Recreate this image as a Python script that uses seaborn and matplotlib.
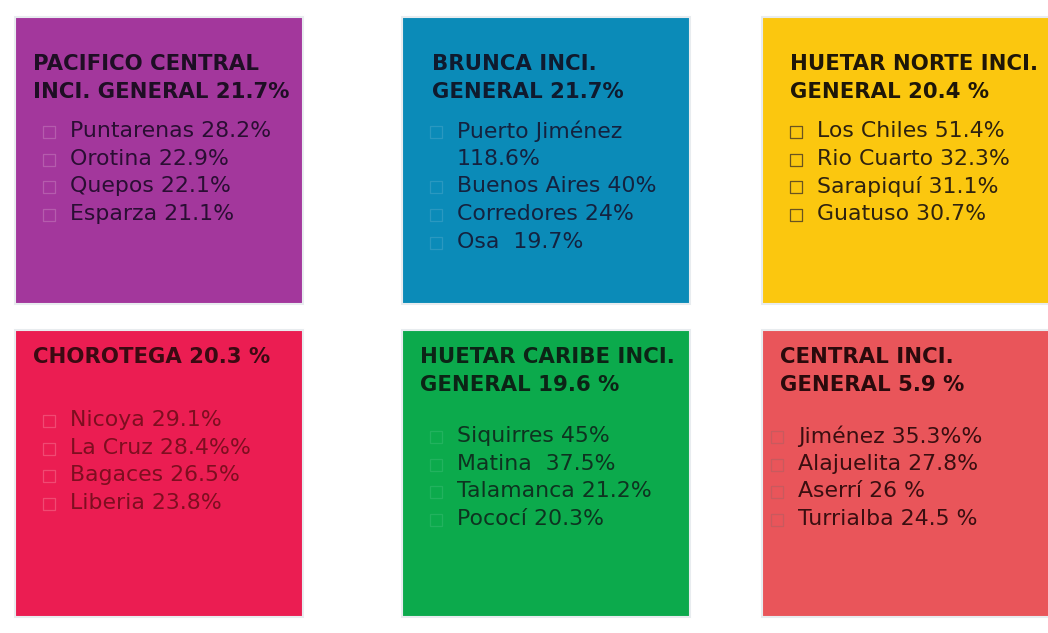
import matplotlib
matplotlib.use("Agg")
import matplotlib.pyplot as plt
import seaborn as sns

# Regiones (orden: fila superior, fila inferior)
regiones = ["PACIFICO CENTRAL\nINCI. GENERAL 21.7%",
            "BRUNCA INCI.\nGENERAL 21.7%",
            "HUETAR NORTE INCI.\nGENERAL 20.4 %",
            "CHOROTEGA 20.3 %",
            "HUETAR CARIBE INCI.\nGENERAL 19.6 %",
            "CENTRAL INCI.\nGENERAL 5.9 %"]

cantones = [["Puntarenas 28.2%", "Orotina 22.9%", "Quepos 22.1%", "Esparza 21.1%"],
            ["Puerto Jiménez\n118.6%", "Buenos Aires 40%", "Corredores 24%", "Osa  19.7%"],
            ["Los Chiles 51.4%", "Rio Cuarto 32.3%", "Sarapiquí 31.1%", "Guatuso 30.7%"],
            ["Nicoya 29.1%", "La Cruz 28.4%%", "Bagaces 26.5%", "Liberia 23.8%"],
            ["Siquirres 45%", "Matina  37.5%", "Talamanca 21.2%", "Pococí 20.3%"],
            ["Jiménez 35.3%%", "Alajuelita 27.8%", "Aserrí 26 %", "Turrialba 24.5 %"]]

colores = ["#A3379C", "#0B8BB8", "#FBC70F", "#EB1D52", "#0CAA4C", "#E9555A"]
color_titulo = ["#1E0E24", "#0F1A2E", "#1E1608", "#3A0A12", "#0C2416", "#2A0A0C"]
color_texto = ["#2A0E33", "#14223F", "#2E2210", "#7E0E20", "#0E3320", "#3A0E10"]
color_casilla = ["#B55CAD", "#2A98C0", "#6A5420", "#F04A72", "#22B25E", "#C85A5E"]

# Disposición en píxeles
izq = [15, 402, 762, 15, 402, 762]
arriba = [17, 17, 17, 330, 330, 330]
ancho = 288
alto = 287
titulo_dx = [18, 30, 28, 18, 18, 18]
titulo_dy = [61, 61, 61, 27, 41, 41]
lista_dy = [114, 114, 114, 90, 106, 106]
texto_dx = [55, 55, 55, 55, 55, 36]
interlinea = 27.7

sns.set_theme(style="white")
plt.rcParams['font.family'] = ['DejaVu Sans']

fig = plt.figure(figsize=(10.48, 6.33), dpi=100)
ax = fig.add_axes([0, 0, 1, 1])
ax.set_xlim(0, 1048)
ax.set_ylim(633, 0)
ax.axis("off")

ax.bar(izq, alto, width=ancho, bottom=arriba, align="edge", color=colores,
       edgecolor="#E8ECEF", linewidth=1.5)

for i in range(len(regiones)):
    x0 = izq[i]
    y0 = arriba[i]
    ax.text(x0 + titulo_dx[i], y0 + titulo_dy[i], regiones[i], fontsize=15.3,
            fontweight="bold", color=color_titulo[i], va="center", ha="left",
            linespacing=1.5)
    linea = 0
    for c in cantones[i]:
        for k, parte in enumerate(c.split("\n")):
            y = y0 + lista_dy[i] + linea * interlinea
            if k == 0:
                ax.scatter([x0 + texto_dx[i] - 21], [y + 1], marker="s", s=75,
                           facecolor="none", edgecolor=color_casilla[i],
                           linewidth=0.9)
            ax.text(x0 + texto_dx[i], y, parte, fontsize=15.8,
                    color=color_texto[i], va="center", ha="left")
            linea += 1

fig.savefig("out.png", dpi=100)
